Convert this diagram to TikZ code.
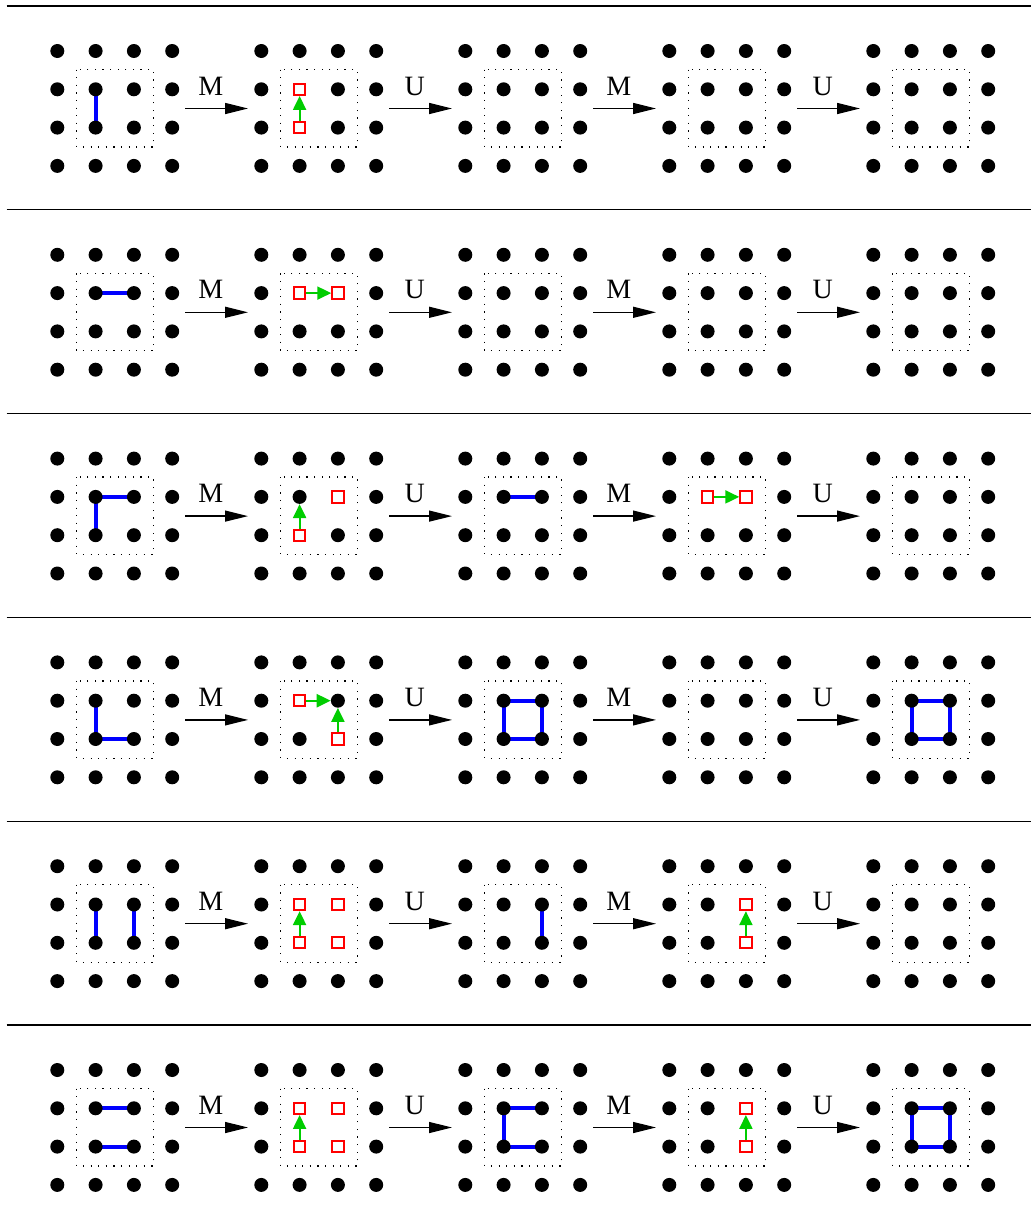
\documentclass[tikz,border=0pt]{standalone}
\usepackage{fontspec}
\setmainfont{Liberation Serif}
\usetikzlibrary{arrows.meta}
\definecolor{grn}{RGB}{0,205,0}
\newcommand\sqat[4]{\expandafter\gdef\csname sk#1-#2-#3-#4\endcsname{}}
% red squares: row, grid, column, line
\sqat{0}{1}{1}{1}\sqat{0}{1}{1}{2}
\sqat{1}{1}{1}{1}\sqat{1}{1}{2}{1}
\sqat{2}{1}{2}{1}\sqat{2}{1}{1}{2}
\sqat{2}{3}{1}{1}\sqat{2}{3}{2}{1}
\sqat{3}{1}{1}{1}\sqat{3}{1}{2}{2}
\sqat{4}{1}{1}{1}\sqat{4}{1}{2}{1}\sqat{4}{1}{1}{2}\sqat{4}{1}{2}{2}
\sqat{4}{3}{2}{1}\sqat{4}{3}{2}{2}
\sqat{5}{1}{1}{1}\sqat{5}{1}{2}{1}\sqat{5}{1}{1}{2}\sqat{5}{1}{2}{2}
\sqat{5}{3}{2}{1}\sqat{5}{3}{2}{2}
\begin{document}
\begin{tikzpicture}[x=1pt,y=-1pt,
  dotn/.style={circle,fill=black,inner sep=0pt,minimum size=14pt},
  sqn/.style={rectangle,draw=red,line width=2pt,fill=white,inner sep=0pt,minimum size=11.3pt},
  bond/.style={draw=blue,line width=4pt},
  flow/.style={draw=grn,line width=2.2pt,-{Triangle[length=14pt,width=13pt,fill=grn]}},
  mapar/.style={line width=1.3pt,-{Triangle[length=23pt,width=11pt]}},
  lab/.style={font=\fontsize{28}{30}\selectfont,inner sep=0pt},
  frame/.style={dash pattern=on 1.3pt off 6.3pt,line width=1.3pt},
  sepline/.style={line width=1.3pt}]
\useasboundingbox (0,0) rectangle (1031,1226);
\fill[white] (0,0) rectangle (1031,1226);
% coordinates, separators, frames
\foreach \r in {0,...,5} {
  \coordinate (sL\r) at (6.5,{6+203.8*\r});
  \coordinate (sR\r) at (1031,{6+203.8*\r});
  \draw[sepline] (sL\r) -- (sR\r);
  \foreach \g in {0,...,4} {
    \foreach \i in {0,...,3} {
      \foreach \j in {0,...,3} {
        \coordinate (p-\r-\g-\i-\j) at ({57.3+204*\g+38.3*\i},{51+203.8*\r+38.3*\j});
      }
    }
    \coordinate (f1-\r-\g) at ({57.3+204*\g+19.5},{51+203.8*\r+18.5});
    \coordinate (f2-\r-\g) at ({57.3+204*\g+96},{51+203.8*\r+96});
    \draw[frame] (f1-\r-\g) rectangle (f2-\r-\g);
  }
}
% blue bonds
\draw[bond] (p-0-0-1-1) -- (p-0-0-1-2);
\draw[bond] (p-1-0-1-1) -- (p-1-0-2-1);
\draw[bond] (p-2-0-2-1) -- (p-2-0-1-1) -- (p-2-0-1-2);
\draw[bond] (p-2-2-1-1) -- (p-2-2-2-1);
\draw[bond] (p-3-0-1-1) -- (p-3-0-1-2) -- (p-3-0-2-2);
\draw[bond] (p-3-2-1-1) -- (p-3-2-2-1) -- (p-3-2-2-2) -- (p-3-2-1-2) -- cycle;
\draw[bond] (p-3-4-1-1) -- (p-3-4-2-1) -- (p-3-4-2-2) -- (p-3-4-1-2) -- cycle;
\draw[bond] (p-4-0-1-1) -- (p-4-0-1-2);
\draw[bond] (p-4-0-2-1) -- (p-4-0-2-2);
\draw[bond] (p-4-2-2-1) -- (p-4-2-2-2);
\draw[bond] (p-5-0-1-1) -- (p-5-0-2-1);
\draw[bond] (p-5-0-1-2) -- (p-5-0-2-2);
\draw[bond] (p-5-2-2-1) -- (p-5-2-1-1) -- (p-5-2-1-2) -- (p-5-2-2-2);
\draw[bond] (p-5-4-1-1) -- (p-5-4-2-1) -- (p-5-4-2-2) -- (p-5-4-1-2) -- cycle;
% dots and red squares
\foreach \r in {0,...,5} {
  \foreach \g in {0,...,4} {
    \foreach \i in {0,...,3} {
      \foreach \j in {0,...,3} {
        \ifcsname sk\r-\g-\i-\j\endcsname
          \node[sqn] (n-\r-\g-\i-\j) at (p-\r-\g-\i-\j) {};
        \else
          \node[dotn] (n-\r-\g-\i-\j) at (p-\r-\g-\i-\j) {};
        \fi
      }
    }
  }
}
% green arrows
\draw[flow] (n-0-1-1-2) -- (n-0-1-1-1);
\draw[flow] (n-1-1-1-1) -- (n-1-1-2-1);
\draw[flow] (n-2-1-1-2) -- (n-2-1-1-1);
\draw[flow] (n-2-3-1-1) -- (n-2-3-2-1);
\draw[flow] (n-3-1-1-1) -- (n-3-1-2-1);
\draw[flow] (n-3-1-2-2) -- (n-3-1-2-1);
\draw[flow] (n-4-1-1-2) -- (n-4-1-1-1);
\draw[flow] (n-4-3-2-2) -- (n-4-3-2-1);
\draw[flow] (n-5-1-1-2) -- (n-5-1-1-1);
\draw[flow] (n-5-3-2-2) -- (n-5-3-2-1);
% M / U maps
\foreach \r in {0,...,5} {
  \foreach \g/\t in {0/M,1/U,2/M,3/U} {
    \coordinate (a-\r-\g) at ({57.3+204*\g+127.7},{51+203.8*\r+57.5});
    \coordinate (b-\r-\g) at ({57.3+204*\g+190.7},{51+203.8*\r+57.5});
    \draw[mapar] (a-\r-\g) -- (b-\r-\g);
    \node[lab] (l-\r-\g) at ({57.3+204*\g+153.5},{51+203.8*\r+35}) {\t};
  }
}
\end{tikzpicture}
\end{document}
